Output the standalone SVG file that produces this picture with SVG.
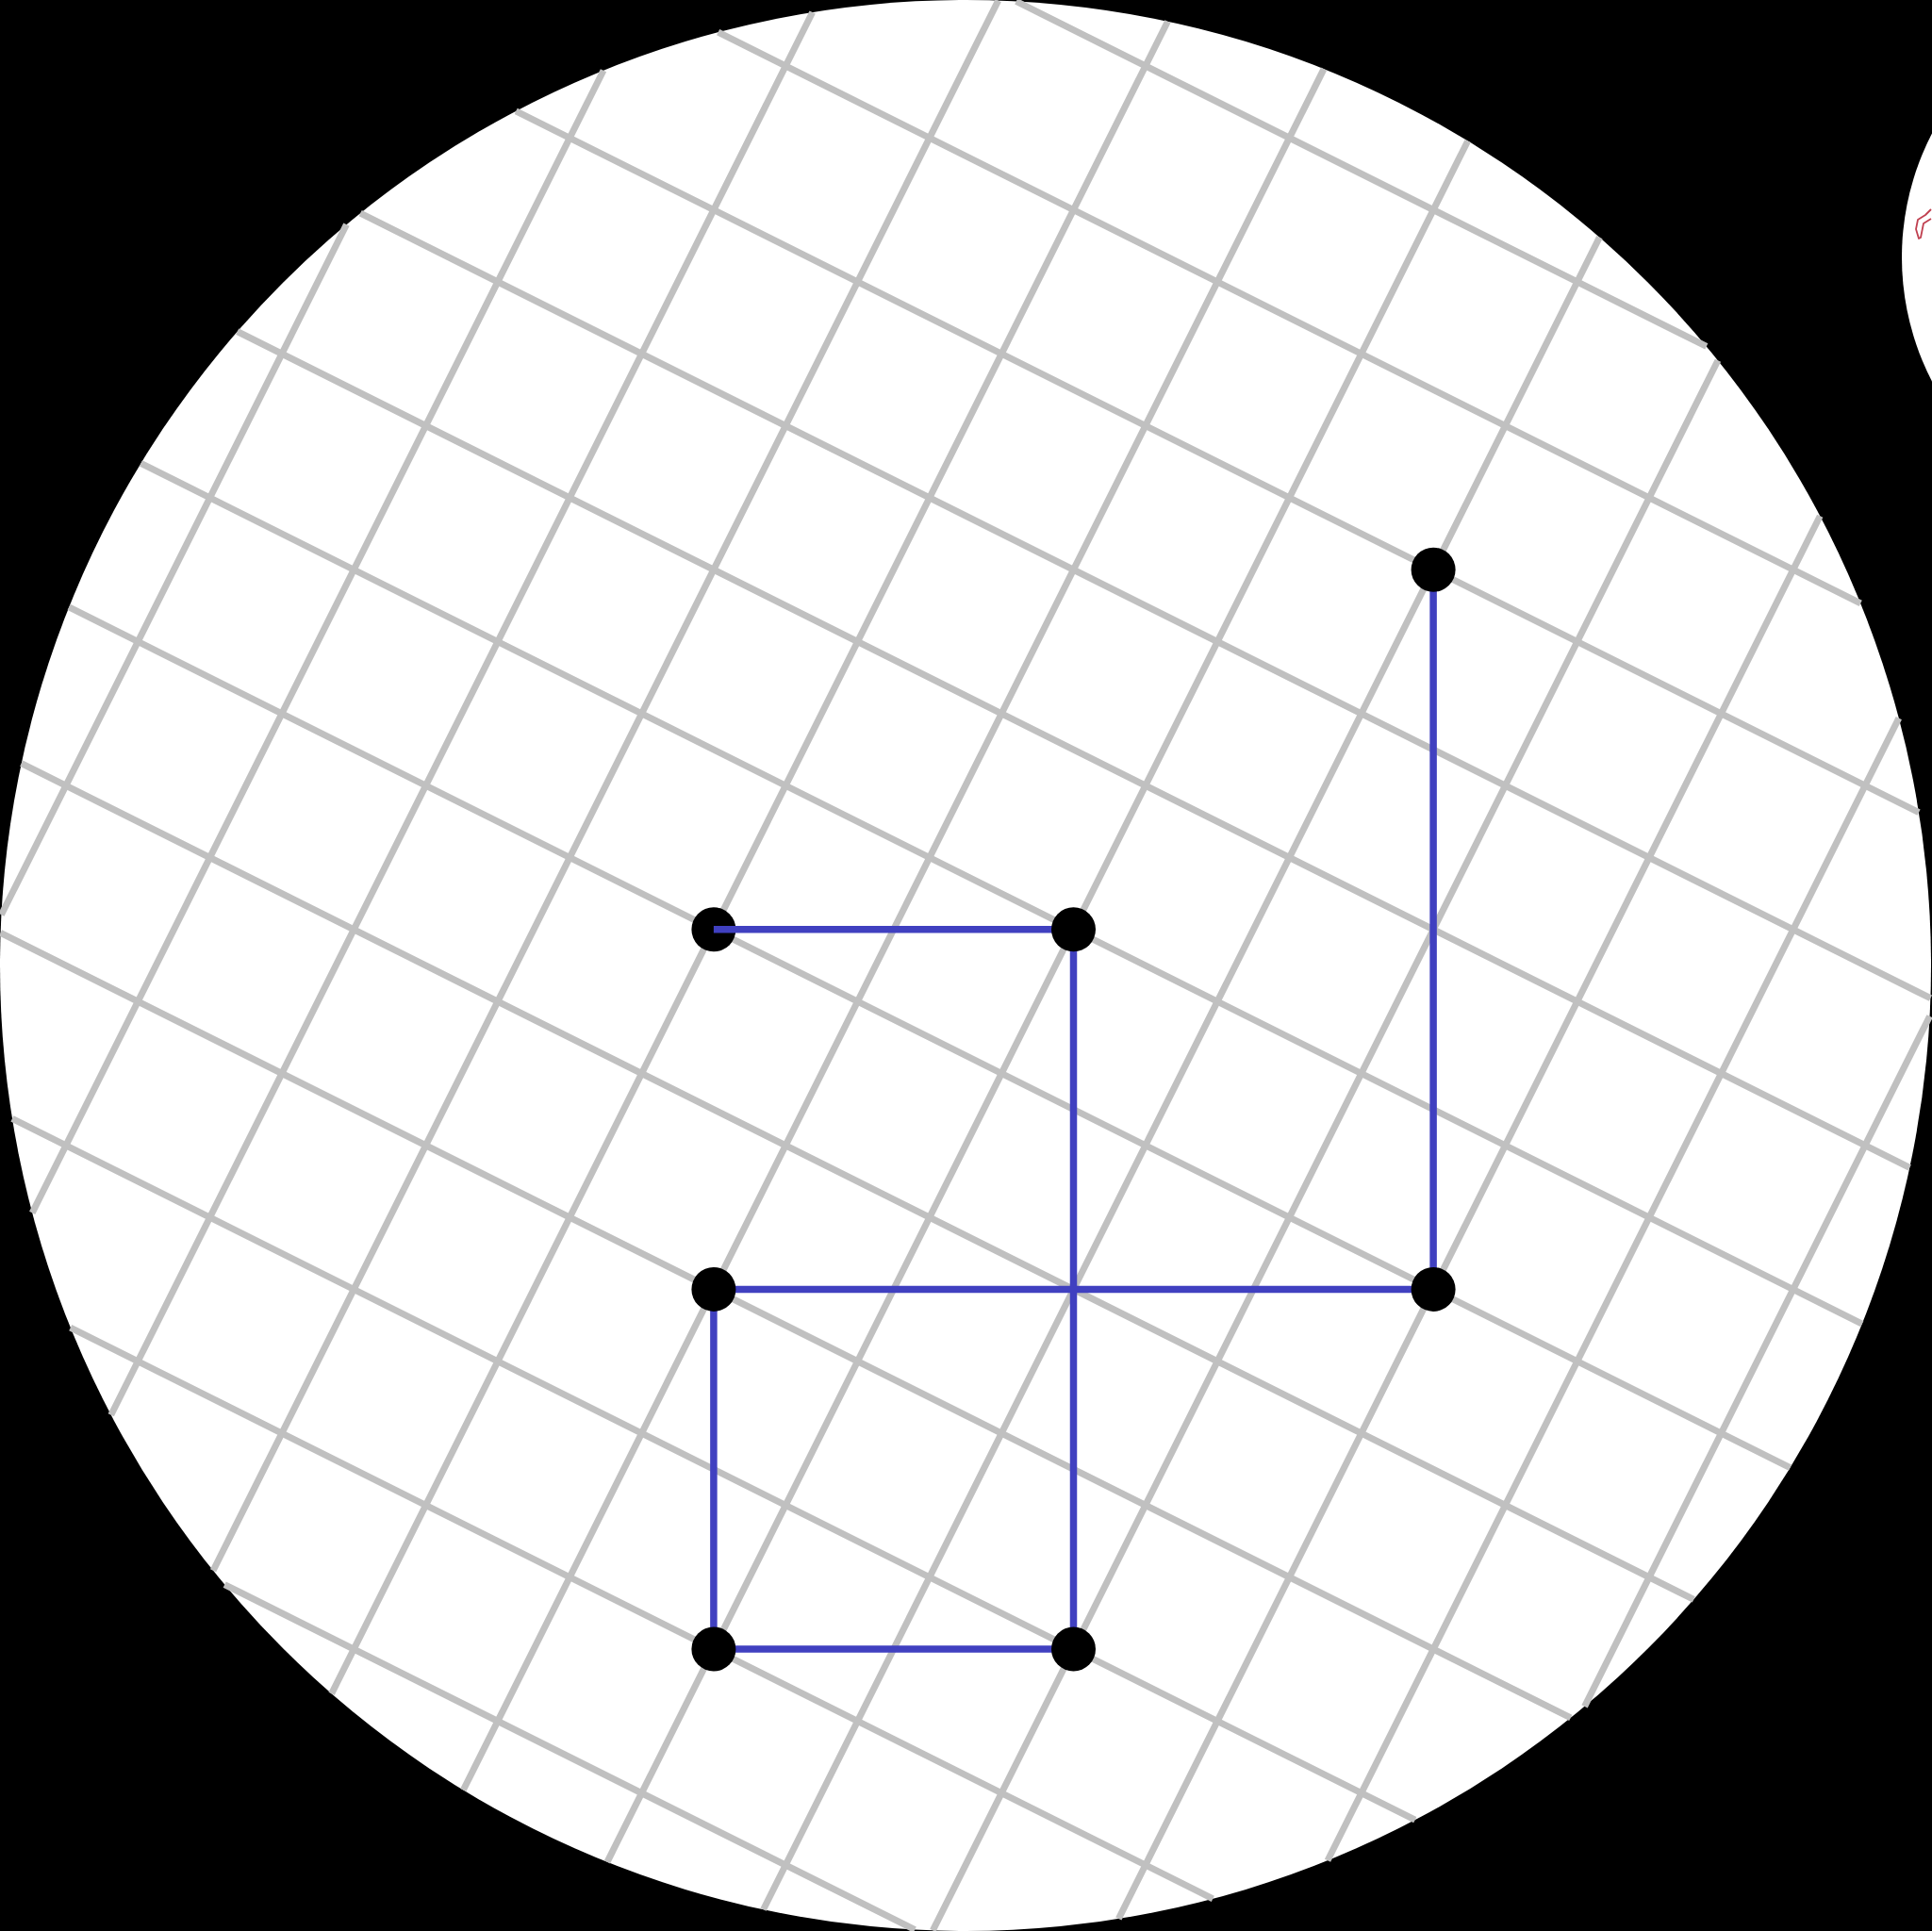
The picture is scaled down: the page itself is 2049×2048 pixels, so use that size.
<svg xmlns="http://www.w3.org/2000/svg" width="2049" height="2048" viewBox="0 0 2049 2048">
<style>
.g line{stroke:#c0c0c0;stroke-width:7;stroke-linecap:butt}
.e line{stroke:#4040c0;stroke-width:7.5;stroke-linecap:butt}
.n circle{fill:#000}
</style>
<rect x="0" y="0" width="2049" height="2048" fill="#000"/>
<circle cx="1024" cy="1024" r="1024" fill="#fff"/>
<g id="side">
<circle cx="2303" cy="273" r="286" fill="#fff"/>
<polyline points="2048,222 2042,228 2034,233 2032,243 2035,253 2037,252 2040,237 2048,232" fill="none" stroke="#c04050" stroke-width="1.8" stroke-linejoin="round"/>
</g>
<g id="grid" class="g" transform="translate(1024,1024) rotate(26.5651)">
<line x1="-938.67" y1="-409.25" x2="-938.67" y2="409.25"/>
<line x1="-768" y1="-677.31" x2="-768" y2="677.31"/>
<line x1="-597.33" y1="-831.73" x2="-597.33" y2="831.73"/>
<line x1="-426.67" y1="-930.88" x2="-426.67" y2="930.88"/>
<line x1="-256" y1="-991.48" x2="-256" y2="991.48"/>
<line x1="-85.33" y1="-1020.44" x2="-85.33" y2="1020.44"/>
<line x1="85.33" y1="-1020.44" x2="85.33" y2="1020.44"/>
<line x1="256" y1="-991.48" x2="256" y2="991.48"/>
<line x1="426.67" y1="-930.88" x2="426.67" y2="930.88"/>
<line x1="597.33" y1="-831.73" x2="597.33" y2="831.73"/>
<line x1="768" y1="-677.31" x2="768" y2="677.31"/>
<line x1="938.67" y1="-409.25" x2="938.67" y2="409.25"/>
<line y1="-938.67" x1="-409.25" y2="-938.67" x2="409.25"/>
<line y1="-768" x1="-677.31" y2="-768" x2="677.31"/>
<line y1="-597.33" x1="-831.73" y2="-597.33" x2="831.73"/>
<line y1="-426.67" x1="-930.88" y2="-426.67" x2="930.88"/>
<line y1="-256" x1="-991.48" y2="-256" x2="991.48"/>
<line y1="-85.33" x1="-1020.44" y2="-85.33" x2="1020.44"/>
<line y1="85.33" x1="-1020.44" y2="85.33" x2="1020.44"/>
<line y1="256" x1="-991.48" y2="256" x2="991.48"/>
<line y1="426.67" x1="-930.88" y2="426.67" x2="930.88"/>
<line y1="597.33" x1="-831.73" y2="597.33" x2="831.73"/>
<line y1="768" x1="-677.31" y2="768" x2="677.31"/>
<line y1="938.67" x1="-409.25" y2="938.67" x2="409.25"/>
</g>
<g id="node-a" class="n"><circle cx="756.9" cy="985.8" r="23.5"/></g>
<g id="connectors" class="e">
<line x1="756.9" y1="985.8" x2="1138.5" y2="985.8"/>
<line x1="1138.5" y1="985.8" x2="1138.5" y2="1749"/>
<line x1="756.9" y1="1367.4" x2="1520.1" y2="1367.4"/>
<line x1="1520.1" y1="604.2" x2="1520.1" y2="1367.4"/>
<line x1="756.9" y1="1367.4" x2="756.9" y2="1749"/>
<line x1="756.9" y1="1749" x2="1138.5" y2="1749"/>
</g>
<g id="node-b" class="n"><circle cx="1138.5" cy="985.8" r="23.5"/></g>
<g id="node-c" class="n"><circle cx="1520.1" cy="604.2" r="23.5"/></g>
<g id="node-d" class="n"><circle cx="756.9" cy="1367.4" r="23.5"/></g>
<g id="node-e" class="n"><circle cx="1520.1" cy="1367.4" r="23.5"/></g>
<g id="node-f" class="n"><circle cx="756.9" cy="1749" r="23.5"/></g>
<g id="node-g" class="n"><circle cx="1138.5" cy="1749" r="23.5"/></g>
</svg>
